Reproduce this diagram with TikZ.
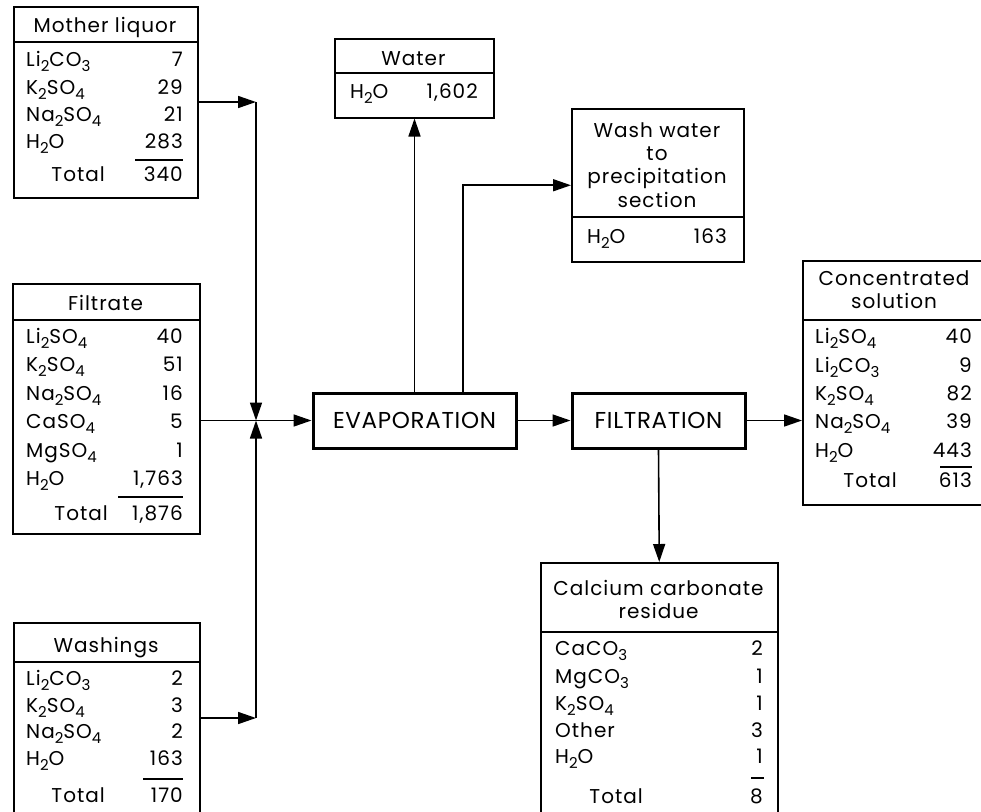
\documentclass[tikz,border=0pt]{standalone}
\usepackage{fontspec}
\setmainfont[LetterSpace=5]{Poppins}
\newfontfamily\procfont[LetterSpace=3]{Poppins}
\usetikzlibrary{arrows.meta}
\newcommand\lo[1]{\raisebox{-5pt}{\fontsize{15}{15}\selectfont #1}}
\tikzset{
 tbox/.style={draw, line width=1.5pt, inner sep=0pt, anchor=north west, rectangle},
 pbox/.style={draw, line width=3pt, inner sep=0pt, rectangle, font=\procfont\fontsize{23}{23}\selectfont},
 txt/.style={inner sep=0pt, font=\fontsize{20}{20}\selectfont},
 lab/.style={txt, anchor=base west},
 val/.style={txt, anchor=base east},
 hd/.style={txt, anchor=base},
 hsep/.style={line width=1.5pt},
 flow/.style={line width=1.6pt},
 arr/.style={flow, -{Triangle[length=18pt,width=12pt]}},
}
\begin{document}
\begin{tikzpicture}[x=1pt,y=-1pt]
\useasboundingbox (0,0) rectangle (981,811);
\clip (0,0) rectangle (981,811);

% Mother liquor
\node[tbox, minimum width=184pt, minimum height=191pt] (ml) at (13,6) {};
\node[hd] (mlh) at (105,32) {Mother liquor};
\draw[hsep] (ml.west |- 0,42) -- (ml.east |- 0,42);
\foreach \l/\v/\y in {{Li\lo{2}CO\lo{3}}/7/66, {K\lo{2}SO\lo{4}}/29/94, {Na\lo{2}SO\lo{4}}/21/121, {H\lo{2}O}/283/148}{
  \node[lab] (ml-l\y) at (26,\y) {\l};
  \node[val] (ml-v\y) at (183,\y) {\v};
}
\draw[hsep] (135,160) -- (183,160);
\node[val] (ml-tl) at (105,181) {Total};
\node[val] (ml-tv) at (183,181) {340};

% Filtrate
\node[tbox, minimum width=187pt, minimum height=250pt] (fi) at (12,283) {};
\node[hd] (fih) at (105.5,310) {Filtrate};
\draw[hsep] (fi.west |- 0,320) -- (fi.east |- 0,320);
\foreach \l/\v/\y in {{Li\lo{2}SO\lo{4}}/40/343, {K\lo{2}SO\lo{4}}/51/371, {Na\lo{2}SO\lo{4}}/16/400, {CaSO\lo{4}}/5/428, {MgSO\lo{4}}/1/457, {H\lo{2}O}/{1,763}/485}{
  \node[lab] (fi-l\y) at (26,\y) {\l};
  \node[val] (fi-v\y) at (183,\y) {\v};
}
\draw[hsep] (118,497) -- (183,497);
\node[val] (fi-tl) at (108,520) {Total};
\node[val] (fi-tv) at (183,520) {1,876};

% Washings
\node[tbox, minimum width=186pt, minimum height=220pt] (wa) at (13,622) {};
\node[hd] (wah) at (106,652) {Washings};
\draw[hsep] (wa.west |- 0,662) -- (wa.east |- 0,662);
\foreach \l/\v/\y in {{Li\lo{2}CO\lo{3}}/2/685, {K\lo{2}SO\lo{4}}/3/712, {Na\lo{2}SO\lo{4}}/2/738, {H\lo{2}O}/163/765}{
  \node[lab] (wa-l\y) at (26,\y) {\l};
  \node[val] (wa-v\y) at (183,\y) {\v};
}
\draw[hsep] (143,779) -- (183,779);
\node[val] (wa-tl) at (105,802) {Total};
\node[val] (wa-tv) at (183,802) {170};

% Water
\node[tbox, minimum width=159pt, minimum height=79pt] (wt) at (334,38) {};
\node[hd] (wth) at (413.5,65) {Water};
\draw[hsep] (wt.west |- 0,73) -- (wt.east |- 0,73);
\node[lab] (wt-l) at (350,98) {H\lo{2}O};
\node[val] (wt-v) at (478,98) {1,602};

% Wash water
\node[tbox, minimum width=172pt, minimum height=153pt] (ww) at (571,108) {};
\node[hd] (wwh1) at (657,137) {Wash water};
\node[hd] (wwh2) at (657,160) {to};
\node[hd] (wwh3) at (657,183) {precipitation};
\node[hd] (wwh4) at (657,207) {section};
\draw[hsep] (ww.west |- 0,217) -- (ww.east |- 0,217);
\node[lab] (ww-l) at (587,243) {H\lo{2}O};
\node[val] (ww-v) at (727,243) {163};

% Concentrated solution
\node[tbox, minimum width=186pt, minimum height=244pt] (cs) at (802,260) {};
\node[hd] (csh1) at (894,285) {Concentrated};
\node[hd] (csh2) at (894,308) {solution};
\draw[hsep] (cs.west |- 0,320) -- (cs.east |- 0,320);
\foreach \l/\v/\y in {{Li\lo{2}SO\lo{4}}/40/343, {Li\lo{2}CO\lo{3}}/9/372, {K\lo{2}SO\lo{4}}/82/400, {Na\lo{2}SO\lo{4}}/39/428, {H\lo{2}O}/443/457}{
  \node[lab] (cs-l\y) at (815,\y) {\l};
  \node[val] (cs-v\y) at (972,\y) {\v};
}
\draw[hsep] (940,467) -- (972,467);
\node[val] (cs-tl) at (897,487) {Total};
\node[val] (cs-tv) at (972,487) {613};

% Calcium carbonate residue
\node[tbox, minimum width=237pt, minimum height=270pt] (cc) at (540,562) {};
\node[hd] (cch1) at (658.5,595) {Calcium carbonate};
\node[hd] (cch2) at (658.5,618) {residue};
\draw[hsep] (cc.west |- 0,632) -- (cc.east |- 0,632);
\foreach \l/\v/\y in {{CaCO\lo{3}}/2/655, {MgCO\lo{3}}/1/683, {K\lo{2}SO\lo{4}}/1/710, {Other}/3/737, {H\lo{2}O}/1/763}{
  \node[lab] (cc-l\y) at (555,\y) {\l};
  \node[val] (cc-v\y) at (763,\y) {\v};
}
\draw[hsep] (751,778) -- (764,778);
\node[val] (cc-tl) at (643,803) {Total};
\node[val] (cc-tv) at (763,803) {8};

% Process boxes
\node[pbox, minimum width=203pt, minimum height=55pt] (evap) at (414.5,420.5) {EVAPORATION};
\node[pbox, minimum width=173pt, minimum height=55pt] (filt) at (658.5,420.5) {FILTRATION};

% Connectors
\coordinate (jtop) at (256,102);
\coordinate (junc) at (256,420.5);
\coordinate (jbot) at (256,718);
\coordinate (wwx) at (463,0);
\draw[arr] (ml.east |- jtop) -- (jtop);
\draw[arr] (wa.east |- jbot) -- (jbot);
\draw[arr] (jtop) -- (junc);
\draw[arr] (jbot) -- (junc);
\draw[arr] (fi.east |- junc) -- (evap.west);
\draw[arr] (evap.east) -- (filt.west);
\draw[arr] (filt.east) -- (cs.west |- filt.east);
\draw[arr] (filt.south) -- (cc.north);
\draw[arr] (evap.north) -- (evap.north |- wt.south);
\draw[arr] (evap.north -| wwx) |- (ww.west);
\end{tikzpicture}
\end{document}
